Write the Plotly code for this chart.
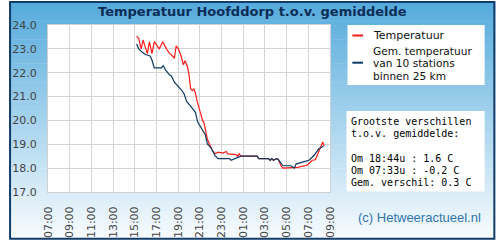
import plotly.graph_objects as go

D1 = "2024-05-01 "
D2 = "2024-05-02 "

temp_times = [
    D1 + t for t in ["15:10", "15:22", "15:35", "15:46", "15:58", "16:10", "16:21", "16:35", "16:48",
                     "17:02", "17:15", "17:35", "17:55", "18:13", "18:25", "18:39", "18:49", "19:01",
                     "19:15", "19:29", "19:38", "19:51", "20:00", "20:09", "20:19", "20:27", "20:36",
                     "20:45", "20:54", "21:03", "21:15", "21:23", "21:42", "22:05", "22:23", "22:41",
                     "23:08", "23:26", "23:35"]
] + [
    D2 + t for t in ["00:20", "00:29", "00:38", "00:47", "02:17", "02:26", "03:20", "03:29", "03:38",
                     "03:47", "04:04", "04:13", "04:31", "04:40", "05:43", "06:01", "06:55", "07:22",
                     "07:39", "07:57", "08:15", "08:20", "08:28"]
]
temp_values = [23.53, 23.43, 23.0, 23.37, 23.07, 22.8, 23.3, 22.8, 23.3,
               23.13, 23.0, 23.3, 23.0, 22.8, 22.73, 22.6, 23.13, 23.0,
               22.73, 22.33, 22.5, 22.27, 21.93, 21.33, 21.25, 21.33, 21.13,
               20.8, 20.6, 20.33, 20.0, 19.9, 19.2, 18.8, 18.6, 18.67,
               18.63, 18.7, 18.6,
               18.57, 18.5, 18.6, 18.5, 18.5, 18.4, 18.4, 18.33, 18.4,
               18.33, 18.4, 18.37, 18.07, 18.0, 18.0, 18.03, 18.13, 18.33,
               18.35, 18.67, 19.07, 19.1, 18.93]

avg_times = [
    D1 + t for t in ["15:10", "15:22", "15:40", "15:58", "16:25", "16:35", "16:48", "17:28", "17:37",
                     "17:49", "18:13", "18:22", "18:39", "18:57", "19:15", "19:32", "19:47", "20:09",
                     "20:27", "20:36", "20:48", "21:15", "21:30", "21:42", "22:00", "22:15", "22:23",
                     "22:41", "23:44", "23:53"]
] + [
    D2 + t for t in ["00:20", "00:38", "00:47", "02:17", "02:26", "03:20", "03:29", "03:38", "03:47",
                     "04:04", "04:13", "04:40", "05:25", "05:43", "05:52", "06:37", "07:04", "07:31",
                     "07:57", "08:24"]
]
avg_values = [23.2, 23.0, 22.87, 22.76, 22.7, 22.53, 22.2, 22.2, 22.3,
              22.13, 21.9, 21.87, 21.6, 21.47, 21.3, 21.13, 20.8, 20.6,
              20.4, 20.33, 19.93, 19.6, 19.4, 19.0, 18.87, 18.67, 18.53,
              18.4, 18.4, 18.33,
              18.4, 18.47, 18.5, 18.5, 18.4, 18.4, 18.33, 18.4, 18.33,
              18.4, 18.37, 18.1, 18.1, 18.0, 18.17, 18.27, 18.33, 18.53,
              18.8, 18.93]

title_text = "Temperatuur Hoofddorp t.o.v. gemiddelde"
legend_labels = ["Temperatuur", ["Gem. temperatuur", "van 10 stations", "binnen 25 km"]]
info_lines = ["Grootste verschillen", "t.o.v. gemiddelde:", "",
              "Om 18:44u : 1.6 C", "Om 07:33u : -0.2 C", "Gem. verschil: 0.3 C"]
credit = "(c) Hetweeractueel.nl"

RED = "#ff1a1a"
NAVY = "#0d3a63"
W, H = 500, 250
L, R, T, B = 40, 170, 25, 50
pw = W - L - R
ph = H - T - B


def qx(x):
    return (x - L) / pw


def qy(y):
    return 1 - (y - T) / ph


fig = go.Figure()
fig.add_trace(go.Scatter(x=temp_times, y=temp_values, mode="lines",
                         line=dict(color=RED, width=1.2), name="Temperatuur"))
fig.add_trace(go.Scatter(x=avg_times, y=avg_values, mode="lines",
                         line=dict(color=NAVY, width=1.2), name="Gem. temperatuur"))

shapes = []
# gradient background over whole image
top = (86, 171, 220)
bot = (247, 251, 254)
n = 50
for i in range(n):
    t = i / (n - 1)
    c = tuple(round(top[k] + (bot[k] - top[k]) * t) for k in range(3))
    shapes.append(dict(type="rect", xref="paper", yref="paper", layer="below",
                       x0=qx(0), x1=qx(W), y0=qy((i + 1) * H / n + 0.5), y1=qy(i * H / n),
                       line=dict(width=0), fillcolor="rgb(%d,%d,%d)" % c))
# white plot area
shapes.append(dict(type="rect", xref="paper", yref="paper", layer="below",
                   x0=0, x1=1, y0=0, y1=1, line=dict(width=0), fillcolor="white"))

# legend box
shapes.append(dict(type="rect", xref="paper", yref="paper", x0=qx(348), x1=qx(489),
                   y0=qy(88), y1=qy(25), fillcolor="white", line=dict(width=0)))
shapes.append(dict(type="line", xref="paper", yref="paper", x0=qx(353), x1=qx(364),
                   y0=qy(36), y1=qy(36), line=dict(color=RED, width=2)))
shapes.append(dict(type="line", xref="paper", yref="paper", x0=qx(353), x1=qx(364),
                   y0=qy(64.5), y1=qy(64.5), line=dict(color=NAVY, width=2)))
# info box
shapes.append(dict(type="rect", xref="paper", yref="paper", x0=qx(347), x1=qx(489),
                   y0=qy(199.5), y1=qy(115), fillcolor="white", line=dict(width=0)))
# outer border
shapes.append(dict(type="rect", xref="paper", yref="paper", x0=qx(1), x1=qx(499),
                   y0=qy(249), y1=qy(1), line=dict(color="#123d6a", width=2)))

ann = []
ann.append(dict(text="<b>%s</b>" % title_text, xref="paper", yref="paper", x=qx(250), y=qy(11),
                xanchor="center", yanchor="middle", showarrow=False,
                font=dict(family="DejaVu Sans", size=13, color="#0b2d57")))
leg_font = dict(family="DejaVu Sans", size=11, color="#111")
ann.append(dict(text=legend_labels[0], xref="paper", yref="paper", x=qx(372), y=qy(35.5),
                xanchor="left", yanchor="middle", showarrow=False, font=leg_font))
multi = "<br>".join('<span style="font-size:10.6px">%s</span>' % s for s in legend_labels[1])
ann.append(dict(text=multi, xref="paper", yref="paper", x=qx(372), y=qy(65),
                xanchor="left", yanchor="middle", showarrow=False, align="left",
                font=dict(family="DejaVu Sans", size=9.5, color="#111")))
info_font = dict(family="DejaVu Sans Mono", size=10, color="#000")
for i, s in enumerate(info_lines):
    if s:
        ann.append(dict(text=s, xref="paper", yref="paper", x=qx(349.5), y=qy(126 + i * 12.8),
                        xanchor="left", yanchor="middle", showarrow=False, font=info_font))
ann.append(dict(text=credit, xref="paper", yref="paper", x=qx(487), y=qy(226.5),
                xanchor="right", yanchor="middle", showarrow=False,
                font=dict(family="Liberation Sans", size=13, color="#2f76ab")))

fig.update_layout(
    width=W, height=H,
    margin=dict(l=L, r=R, t=T, b=B, pad=0),
    paper_bgcolor="white", plot_bgcolor="white",
    showlegend=False,
    shapes=shapes, annotations=ann,
    xaxis=dict(range=[D1 + "07:00", D2 + "09:00"], type="date", dtick=2 * 3600 * 1000,
               tick0=D1 + "07:00", tickformat="%H:%M", tickangle=-90,
               ticks="outside", ticklen=9, tickcolor="rgba(0,0,0,0)",
               tickfont=dict(family="DejaVu Sans", size=11, color="#444"),
               showgrid=True, gridcolor="#d4d4d4", gridwidth=1,
               showline=True, linecolor="#d0d0d0", linewidth=1, mirror=True, zeroline=False),
    yaxis=dict(range=[17, 24], dtick=1, tickformat=".1f",
               ticks="outside", ticklen=8, tickcolor="rgba(0,0,0,0)",
               tickfont=dict(family="DejaVu Sans", size=11, color="#444"),
               showgrid=True, gridcolor="#d4d4d4", gridwidth=1,
               showline=True, linecolor="#d0d0d0", linewidth=1, mirror=True, zeroline=False),
)

fig.write_html("out.html")
